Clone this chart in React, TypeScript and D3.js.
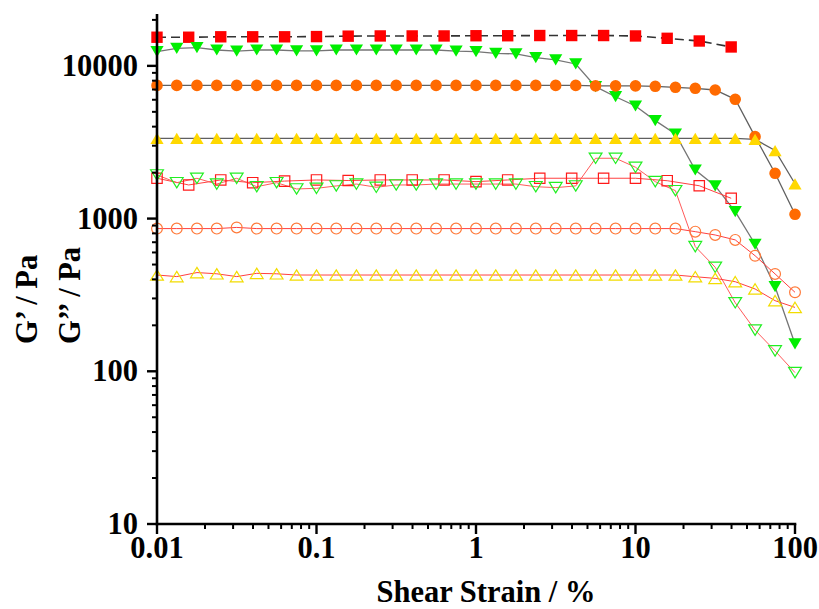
import React from "react";
import * as d3 from "d3";

const strain5 = [0.01, 0.0158, 0.0251, 0.0398, 0.0631, 0.1, 0.158, 0.251, 0.398, 0.631, 1, 1.58, 2.51, 3.98, 6.31, 10, 15.8, 25.1, 39.8];
const strain8 = [0.01, 0.0133, 0.0178, 0.0237, 0.0316, 0.0422, 0.0562, 0.075, 0.1, 0.133, 0.178, 0.237, 0.316, 0.422, 0.562, 0.75, 1, 1.33, 1.78, 2.37, 3.16, 4.22, 5.62, 7.5, 10, 13.3, 17.8, 23.7, 31.6, 42.2, 56.2, 75, 100];

const redStorage = [15400, 15400, 15500, 15500, 15500, 15550, 15650, 15700, 15700, 15700, 15750, 15750, 15800, 15800, 15800, 15700, 15150, 14550, 13300];
const greenStorage = [12400, 13000, 13150, 12700, 12500, 12700, 12700, 12550, 12550, 12700, 12700, 12700, 12700, 12700, 12700, 12500, 12390, 12090, 11970, 11310, 10930, 10290, 7310, 6280, 5460, 4380, 3580, 2080, 1635, 1110, 679, 358, 151];
const orangeStorage = [7450, 7450, 7450, 7450, 7450, 7450, 7450, 7450, 7450, 7450, 7450, 7450, 7450, 7450, 7450, 7450, 7450, 7450, 7450, 7450, 7450, 7450, 7400, 7400, 7400, 7350, 7240, 7130, 6950, 6040, 3440, 1980, 1067];
const yellowStorage = [3350, 3350, 3350, 3350, 3350, 3350, 3350, 3350, 3350, 3350, 3350, 3350, 3350, 3350, 3350, 3350, 3350, 3350, 3350, 3350, 3350, 3350, 3350, 3350, 3350, 3350, 3350, 3350, 3350, 3350, 3300, 2790, 1690];

const redLoss = [1837, 1660, 1790, 1718, 1760, 1790, 1775, 1790, 1790, 1790, 1745, 1790, 1837, 1837, 1837, 1837, 1770, 1641, 1358];
const greenLoss = [1930, 1718, 1836, 1683, 1836, 1617, 1718, 1563, 1578, 1636, 1683, 1604, 1660, 1660, 1683, 1683, 1683, 1683, 1683, 1617, 1595, 1636, 2483, 2483, 2168, 1745, 1523, 655, 480, 281, 186, 136, 98];
const orangeLoss = [860, 860, 860, 860, 875, 860, 860, 860, 860, 860, 860, 860, 860, 860, 860, 860, 860, 860, 860, 860, 860, 860, 860, 860, 860, 860, 860, 821, 781, 725, 571, 434, 329];
const yellowLoss = [427, 417, 443, 435, 417, 438, 435, 427, 427, 427, 427, 427, 427, 427, 427, 427, 427, 427, 427, 427, 427, 427, 427, 427, 427, 427, 427, 416, 406, 386, 346, 290, 262];

const xTickValues = [0.01, 0.1, 1, 10, 100];
const xTickLabels = ["0.01", "0.1", "1", "10", "100"];
const yTickValues = [10, 100, 1000, 10000];
const yTickLabels = ["10", "100", "1000", "10000"];

type Shape = "square" | "circle" | "up" | "down";
interface Series {
  xs: number[];
  ys: number[];
  shape: Shape;
  color: string;
  filled: boolean;
  line: string;
  dash?: string;
  lw: number;
}

const series: Series[] = [
  { xs: strain5, ys: redStorage, shape: "square", color: "#ff0000", filled: true, line: "#333333", dash: "9,5", lw: 1.6 },
  { xs: strain8, ys: greenStorage, shape: "down", color: "#00ee00", filled: true, line: "#757575", lw: 1.3 },
  { xs: strain8, ys: orangeStorage, shape: "circle", color: "#ff6a00", filled: true, line: "#606060", lw: 1.3 },
  { xs: strain8, ys: yellowStorage, shape: "up", color: "#ffd800", filled: true, line: "#606060", lw: 1.3 },
  { xs: strain5, ys: redLoss, shape: "square", color: "#ff1a1a", filled: false, line: "#ff4040", lw: 1 },
  { xs: strain8, ys: greenLoss, shape: "down", color: "#22ee22", filled: false, line: "#ff5a5a", lw: 1 },
  { xs: strain8, ys: orangeLoss, shape: "circle", color: "#ff7a3a", filled: false, line: "#ff4040", lw: 1 },
  { xs: strain8, ys: yellowLoss, shape: "up", color: "#f2dc00", filled: false, line: "#ff4040", lw: 1 },
];

function markerPath(shape: Shape, filled: boolean): string {
  if (shape === "square") {
    const s = filled ? 5.7 : 5.2;
    return `M${-s},${-s}H${s}V${s}H${-s}Z`;
  }
  if (shape === "circle") {
    const r = filled ? 5.8 : 5.4;
    return `M${r},0A${r},${r} 0 1,1 ${-r},0A${r},${r} 0 1,1 ${r},0Z`;
  }
  const w = filled ? 6.6 : 6.4;
  const h = filled ? 5.6 : 5.2;
  if (shape === "up") return `M0,${-h}L${w},${h}L${-w},${h}Z`;
  return `M0,${h}L${w},${-h}L${-w},${-h}Z`;
}

export default function App() {
  const W = 819;
  const H = 609;
  const x = d3.scaleLog().domain([0.01, 100]).range([157, 795]);
  const y = d3.scaleLog().domain([10, 21500]).range([524, 15.1]);

  const xMinor: number[] = [];
  for (const d of [0.01, 0.1, 1, 10]) for (let k = 2; k <= 9; k++) xMinor.push(d * k);
  const yMinor: number[] = [];
  for (const d of [10, 100, 1000, 10000]) for (let k = 2; k <= 9; k++) if (d * k <= 21500) yMinor.push(d * k);

  const font = "'Liberation Serif', 'Times New Roman', serif";
  const line = d3
    .line<[number, number]>()
    .x((d) => x(d[0]))
    .y((d) => y(d[1]));

  const x0 = x(0.01);
  const y0 = y(10);

  return (
    <svg width={W} height={H} style={{ position: "absolute", left: 0, top: 0, display: "block", background: "#fff" }}>
      <rect x={0} y={0} width={W} height={H} fill="#fff" />
      {series.map((s, i) => (
        <path
          key={"l" + i}
          d={line(s.xs.map((v, j) => [v, s.ys[j]] as [number, number])) || ""}
          fill="none"
          stroke={s.line}
          strokeWidth={s.lw}
          strokeDasharray={s.dash}
        />
      ))}
      {series.map((s, i) => (
        <g key={"m" + i}>
          {s.xs.map((v, j) => (
            <path
              key={j}
              transform={`translate(${x(v)},${y(s.ys[j])})`}
              d={markerPath(s.shape, s.filled)}
              fill={s.filled ? s.color : "none"}
              stroke={s.filled ? "none" : s.color}
              strokeWidth={s.filled ? 0 : 1.2}
            />
          ))}
        </g>
      ))}
      <g stroke="#000" strokeLinecap="butt">
        <line x1={x0} y1={14} x2={x0} y2={y0 + 1.3} strokeWidth={2.6} />
        <line x1={x0 - 1.3} y1={y0} x2={x(100) + 1.3} y2={y0} strokeWidth={2.6} />
        {xTickValues.map((v) => (
          <line key={"xt" + v} x1={x(v)} x2={x(v)} y1={y0} y2={y0 + 10} strokeWidth={2.4} />
        ))}
        {xMinor.map((v) => (
          <line key={"xm" + v} x1={x(v)} x2={x(v)} y1={y0} y2={y0 + 5} strokeWidth={2} />
        ))}
        {yTickValues.map((v) => (
          <line key={"yt" + v} x1={x0 - 10} x2={x0} y1={y(v)} y2={y(v)} strokeWidth={2.4} />
        ))}
        {yMinor.map((v) => (
          <line key={"ym" + v} x1={x0 - 5} x2={x0} y1={y(v)} y2={y(v)} strokeWidth={2} />
        ))}
      </g>
      <g fontFamily={font} fontWeight="bold" fontSize={30.5} fill="#000">
        {xTickValues.map((v, i) => (
          <text key={"xl" + v} x={x(v)} y={y0 + 34} textAnchor="middle">
            {xTickLabels[i]}
          </text>
        ))}
        {yTickValues.map((v, i) => (
          <text key={"yl" + v} x={x0 - 19} y={y(v) + 10} textAnchor="end">
            {yTickLabels[i]}
          </text>
        ))}
        <text x={486} y={602} textAnchor="middle">
          Shear Strain / %
        </text>
        <text transform="translate(37,344) rotate(-90)" textAnchor="start">
          {"G\u2019 / Pa"}
        </text>
        <text transform="translate(80,344) rotate(-90)" textAnchor="start">
          {"G\u2019\u2019 / Pa"}
        </text>
      </g>
    </svg>
  );
}
